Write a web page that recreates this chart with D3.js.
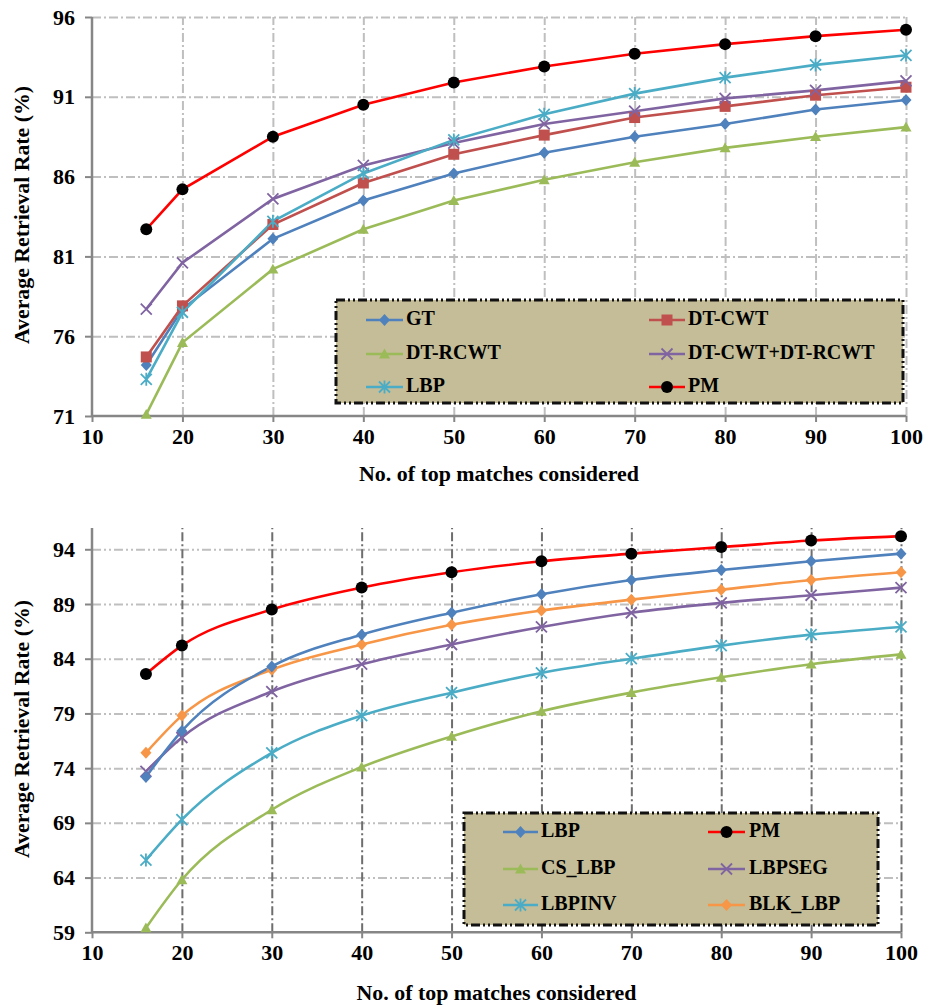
<!DOCTYPE html>
<html>
<head>
<meta charset="utf-8">
<script src="https://cdn.jsdelivr.net/npm/d3@7"></script>
<style>
  html, body { margin: 0; padding: 0; background: #ffffff; }
  svg { display: block; }
  text { font-family: "Liberation Serif", "Times New Roman", serif; font-weight: bold; fill: #000; }
</style>
</head>
<body>
<svg id="fig" width="935" height="1007"></svg>
<script>
// Number of top matches at which the retrieval rate was measured
const matches = [16, 20, 30, 40, 50, 60, 70, 80, 90, 100];
const xTicks = [10, 20, 30, 40, 50, 60, 70, 80, 90, 100];

// Upper panel: wavelet / texture descriptors vs proposed method
const topNames = ["GT", "DT-CWT", "DT-RCWT", "DT-CWT+DT-RCWT", "LBP", "PM"];
const topGT      = [74.2, 77.7, 82.1, 84.5, 86.2, 87.5, 88.5, 89.3, 90.2, 90.8];
const topDTCWT   = [74.7, 77.9, 83.0, 85.6, 87.4, 88.6, 89.7, 90.4, 91.1, 91.6];
const topDTRCWT  = [71.1, 75.6, 80.2, 82.7, 84.5, 85.8, 86.9, 87.8, 88.5, 89.1];
const topCombined= [77.7, 80.6, 84.6, 86.7, 88.1, 89.3, 90.1, 90.9, 91.4, 92.0];
const topLBP     = [73.3, 77.5, 83.2, 86.2, 88.3, 89.9, 91.2, 92.2, 93.0, 93.6];
const topPM      = [82.7, 85.2, 88.5, 90.5, 91.9, 92.9, 93.7, 94.3, 94.8, 95.2];
const topYTicks  = [71, 76, 81, 86, 91, 96];

// Lower panel: LBP variants vs proposed method
const botNames = ["LBP", "PM", "CS_LBP", "LBPSEG", "LBPINV", "BLK_LBP"];
const botLBP     = [73.2, 77.4, 83.3, 86.2, 88.2, 89.9, 91.2, 92.1, 92.9, 93.6];
const botPM      = [82.6, 85.2, 88.5, 90.5, 91.9, 92.9, 93.6, 94.2, 94.8, 95.2];
const botCSLBP   = [59.4, 63.8, 70.2, 74.1, 76.9, 79.2, 80.9, 82.3, 83.5, 84.4];
const botLBPSEG  = [73.7, 76.8, 81.0, 83.5, 85.3, 86.9, 88.2, 89.1, 89.8, 90.5];
const botLBPINV  = [65.6, 69.3, 75.4, 78.8, 80.9, 82.7, 84.0, 85.2, 86.2, 86.9];
const botBLKLBP  = [75.4, 78.8, 83.0, 85.3, 87.1, 88.4, 89.4, 90.3, 91.2, 91.9];
const botYTicks  = [59, 64, 69, 74, 79, 84, 89, 94];

const xTitle = "No. of top matches considered";
const yTitle = "Average Retrieval Rate (%)";

// Series styles
const STYLE = {
  blue:   { line: "#4F81BD", fill: "#4F81BD", marker: "diamond" },
  red:    { line: "#C0504D", fill: "#C0504D", marker: "square" },
  green:  { line: "#9BBB59", fill: "#9BBB59", marker: "triangle" },
  purple: { line: "#8064A2", fill: "#8064A2", marker: "cross" },
  cyan:   { line: "#4BACC6", fill: "#4BACC6", marker: "star" },
  pm:     { line: "#FF0000", fill: "#000000", marker: "circle" },
  orange: { line: "#F79646", fill: "#F79646", marker: "diamond" }
};

const svg = d3.select("#fig");

function drawMarker(g, type, cx, cy, st) {
  const s = 5.5;
  if (type === "circle") {
    g.append("circle").attr("cx", cx).attr("cy", cy).attr("r", 6).attr("fill", st.fill);
  } else if (type === "diamond") {
    g.append("path").attr("d", `M${cx},${cy - s - 0.5}L${cx + s},${cy}L${cx},${cy + s + 0.5}L${cx - s},${cy}Z`).attr("fill", st.fill);
  } else if (type === "square") {
    g.append("rect").attr("x", cx - s).attr("y", cy - s).attr("width", 2 * s).attr("height", 2 * s).attr("fill", st.fill);
  } else if (type === "triangle") {
    g.append("path").attr("d", `M${cx},${cy - s}L${cx + s},${cy + s * 0.8}L${cx - s},${cy + s * 0.8}Z`).attr("fill", st.fill);
  } else if (type === "cross") {
    g.append("path").attr("d", `M${cx - s},${cy - s}L${cx + s},${cy + s}M${cx - s},${cy + s}L${cx + s},${cy - s}`)
      .attr("stroke", st.fill).attr("stroke-width", 1.8).attr("fill", "none");
  } else if (type === "star") {
    g.append("path").attr("d", `M${cx - s},${cy - s}L${cx + s},${cy + s}M${cx - s},${cy + s}L${cx + s},${cy - s}M${cx},${cy - s - 1}L${cx},${cy + s + 1}`)
      .attr("stroke", st.fill).attr("stroke-width", 1.8).attr("fill", "none");
  }
}

function drawPanel(cfg) {
  const x = d3.scaleLinear().domain([10, 100]).range([cfg.left, cfg.right]);
  const y = d3.scaleLinear().domain(cfg.yDomain).range([cfg.bottom, cfg.top]);
  const g = svg.append("g");

  // horizontal grid
  const hg = g.append("g").attr("transform", `translate(${cfg.left},0)`)
    .call(d3.axisLeft(y).tickValues(cfg.yTicks.filter(v => v !== cfg.yDomain[0])).tickSize(-(cfg.right - cfg.left)).tickFormat(""));
  hg.select(".domain").remove();
  hg.selectAll("line").attr("stroke", cfg.hGridColor).attr("stroke-width", 2).attr("stroke-dasharray", cfg.hGridDash);

  // vertical grid
  const vg = g.append("g").attr("transform", `translate(0,${cfg.bottom})`)
    .call(d3.axisBottom(x).tickValues(xTicks.slice(1)).tickSize(-(cfg.bottom - cfg.gridTop)).tickFormat(""));
  vg.select(".domain").remove();
  vg.selectAll("line").attr("stroke", cfg.vGridColor).attr("stroke-width", 2).attr("stroke-dasharray", cfg.vGridDash);

  // y axis
  const ya = g.append("g").attr("transform", `translate(${cfg.left},0)`)
    .call(d3.axisLeft(y).tickValues(cfg.yTicks).tickSize(7).tickPadding(10).tickFormat(d3.format("d")));
  ya.select(".domain").attr("stroke", "#868686").attr("stroke-width", 2.5)
    .attr("d", `M0,${cfg.axisTop}V${cfg.bottom}`);
  ya.selectAll(".tick line").attr("stroke", "#868686").attr("stroke-width", 2);
  ya.selectAll(".tick text").attr("font-size", 22).attr("font-family", "Liberation Serif, serif").attr("font-weight", "bold").attr("fill", "#000");

  // x axis
  const xa = g.append("g").attr("transform", `translate(0,${cfg.bottom})`)
    .call(d3.axisBottom(x).tickValues(xTicks).tickSize(6).tickPadding(6).tickFormat(d3.format("d")));
  xa.select(".domain").attr("stroke", "#868686").attr("stroke-width", 2.5).attr("d", `M${cfg.left},0H${cfg.right}`);
  xa.selectAll(".tick line").attr("stroke", "#868686").attr("stroke-width", 2);
  xa.selectAll(".tick text").attr("font-size", 22).attr("font-family", "Liberation Serif, serif").attr("font-weight", "bold").attr("fill", "#000");

  // axis titles
  g.append("text").attr("x", (cfg.left + cfg.right) / 2).attr("y", cfg.xTitleY)
    .attr("text-anchor", "middle").attr("dominant-baseline", "middle").attr("font-size", 21)
    .attr("textLength", 280).attr("lengthAdjust", "spacingAndGlyphs").text(xTitle);
  g.append("text").attr("transform", `translate(${cfg.yTitleX},${cfg.yTitleY}) rotate(-90)`)
    .attr("text-anchor", "middle").attr("dominant-baseline", "middle").attr("font-size", 21)
    .attr("textLength", 258).attr("lengthAdjust", "spacingAndGlyphs").text(yTitle);

  // series
  const line = d3.line().x((d, i) => x(matches[i])).y(d => y(d)).curve(cfg.curve);
  cfg.series.forEach(s => {
    g.append("path").datum(s.values).attr("d", line).attr("fill", "none")
      .attr("stroke", s.style.line).attr("stroke-width", 2.6);
  });
  cfg.series.forEach(s => {
    const sg = g.append("g");
    s.values.forEach((v, i) => drawMarker(sg, s.style.marker, x(matches[i]), y(v), s.style));
  });

  // legend
  const L = cfg.legend;
  const lg = g.append("g");
  lg.append("rect").attr("x", L.x0).attr("y", L.y0).attr("width", L.x1 - L.x0).attr("height", L.y1 - L.y0)
    .attr("fill", "#C4BD97").attr("stroke", "#111").attr("stroke-width", 3).attr("stroke-dasharray", "9,3,2,3,2,3");
  L.order.forEach((s, k) => {
    const col = k % 2, row = Math.floor(k / 2);
    const sx = L.symX[col], ty = L.rowY[row];
    lg.append("line").attr("x1", sx[0]).attr("x2", sx[1]).attr("y1", ty).attr("y2", ty)
      .attr("stroke", s.style.line).attr("stroke-width", 2.6);
    drawMarker(lg, s.style.marker, (sx[0] + sx[1]) / 2, ty, s.style);
    lg.append("text").attr("x", L.textX[col]).attr("y", ty).attr("dominant-baseline", "middle")
      .attr("font-size", 20).text(s.name);
  });
}

const topSeries = [
  { name: topNames[0], values: topGT, style: STYLE.blue },
  { name: topNames[1], values: topDTCWT, style: STYLE.red },
  { name: topNames[2], values: topDTRCWT, style: STYLE.green },
  { name: topNames[3], values: topCombined, style: STYLE.purple },
  { name: topNames[4], values: topLBP, style: STYLE.cyan },
  { name: topNames[5], values: topPM, style: STYLE.pm }
];

drawPanel({
  left: 92, right: 906, top: 17, bottom: 416, axisTop: 17, gridTop: 17,
  yDomain: [71, 96], yTicks: topYTicks,
  hGridColor: "#BFBFBF", hGridDash: "9,3,2,3", vGridColor: "#BFBFBF", vGridDash: "9,3,2,3",
  xTitleY: 476, yTitleX: 24, yTitleY: 215,
  curve: d3.curveLinear,
  series: topSeries,
  legend: {
    x0: 336, x1: 903, y0: 300, y1: 403,
    symX: [[366, 403], [649, 685]], textX: [406, 688], rowY: [320, 354, 387],
    order: topSeries
  }
});

const botSeries = [
  { name: botNames[2], values: botCSLBP, style: STYLE.green },
  { name: botNames[4], values: botLBPINV, style: STYLE.cyan },
  { name: botNames[3], values: botLBPSEG, style: STYLE.purple },
  { name: botNames[5], values: botBLKLBP, style: STYLE.orange },
  { name: botNames[0], values: botLBP, style: STYLE.blue },
  { name: botNames[1], values: botPM, style: STYLE.pm }
];
const byName = Object.fromEntries(botSeries.map(s => [s.name, s]));

drawPanel({
  left: 92, right: 901, top: 527.4, bottom: 932.3, axisTop: 528, gridTop: 528,
  yDomain: [59, 96], yTicks: botYTicks,
  hGridColor: "#BFBFBF", hGridDash: "9,3,2,3,2,3", vGridColor: "#6E6E6E", vGridDash: "9,3,2,3",
  xTitleY: 995, yTitleX: 24, yTitleY: 729,
  curve: d3.curveMonotoneX,
  series: botSeries,
  legend: {
    x0: 464, x1: 878, y0: 813, y1: 925,
    symX: [[503, 538], [708, 745]], textX: [541, 749], rowY: [832, 869, 905],
    order: botNames.map(n => byName[n])
  }
});
</script>
</body>
</html>
